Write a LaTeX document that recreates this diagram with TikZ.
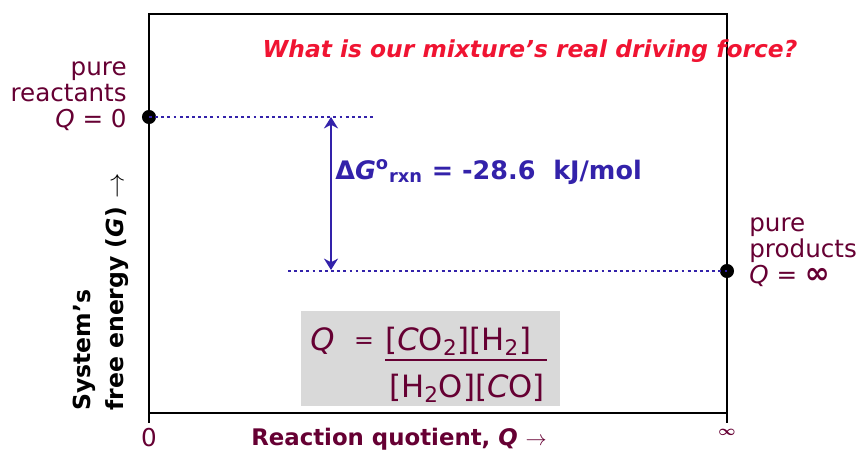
\documentclass[tikz,border=0pt]{standalone}
\usepackage{amsmath}
\usepackage{fontspec}
\setmainfont{DejaVu Sans}
\usetikzlibrary{arrows.meta,positioning}

\definecolor{maroon}{RGB}{102,0,51}
\definecolor{dgblue}{RGB}{51,34,170}
\definecolor{qred}{RGB}{240,20,50}
\definecolor{qgray}{RGB}{217,217,217}

\begin{document}
\begin{tikzpicture}[
    x=0.02cm, y=-0.02cm,
    txt/.style={font=\fontsize{14}{14.8}\selectfont, text=maroon, inner sep=0pt},
    big/.style={txt, font=\fontsize{17.5}{19}\selectfont},
    dot/.style={circle, fill=black, minimum size=8pt, inner sep=0pt},
    dotline/.style={dgblue, line width=1.6pt, dash pattern=on 1.6pt off 1.9pt},
    darr/.style={{Stealth[length=6.5pt,width=8pt]}-{Stealth[length=6.5pt,width=8pt]}, dgblue, line width=1.1pt},
    axis/.style={line width=1.4pt, line cap=rect},
]
\useasboundingbox (0,0) rectangle (857,454);

% frame and ticks
\draw[axis] (149,422) -- (149,14) -- (727,14) -- (727,422);
\draw[axis] (149,413) -- (727,413);

% gray box with Q
\node[fill=qgray, minimum width=147pt, minimum height=54pt, inner sep=0pt, anchor=north west] (qbox) at (301,311) {};
\node[big, anchor=base west] (qsym) at (310,350) {\textit{Q}};
\node[big, font=\fontsize{13.5}{15}\selectfont, anchor=base] (qeq) at (364,348) {=};
\node[big, anchor=base west] (numer) at (385,350) {[\textit{C}O\textsubscript{2}][H\textsubscript{2}]};
\node[big, anchor=base] (denom) at (467,397) {[H\textsubscript{2}O][\textit{C}O]};
\draw[maroon, line width=1.6pt] (385,360) -- (547,360);

% end points
\node[dot] (rdot) at (149,117) {};
\node[dot] (pdot) at (727,271) {};
\coordinate (rend) at (375,117);
\coordinate (pend) at (288,271);
\draw[dotline] (rdot.center) -- (rend);
\draw[dotline] (pend) -- (pdot.center);

% driving force
\coordinate (atop) at (331,117);
\coordinate (abot) at (331,270);
\draw[darr] (atop) -- (abot);
\node[txt, text=dgblue, font=\fontsize{14.5}{16}\selectfont\bfseries, anchor=west] (dg) at (335,172)
  {Δ\textit{G}\textsuperscript{o}\textsubscript{rxn} = -28.6\ \ kJ/mol};

% labels
\node[txt, align=right, anchor=east] (rlab) at (127,96) {pure\\reactants\\\textit{Q} = 0};
\node[txt, align=left, anchor=west] (plab) at (749,252) {pure\\products\\\textit{Q} = {\fontsize{17}{14.8}\selectfont\bfseries ∞}};
\node[txt, text=qred, font=\fontsize{13.3}{15}\selectfont\bfseries\itshape] (title) at (530,51)
  {What is our mixture's real driving force?};
\node[txt, text=black, font=\fontsize{13.4}{18.7}\selectfont\bfseries, align=left, rotate=90, anchor=west] (ylab) at (101,411)
  {System's\\free energy (\textit{G}) $\rightarrow$};
\node[txt, font=\fontsize{13}{14}\selectfont\bfseries] (xlab) at (399,439) {Reaction quotient, \textit{Q} $\rightarrow$};
\node[txt] (zero) at (149,438) {0};
\node[txt, font=\fontsize{8.5}{10}\selectfont] (inf) at (727,432) {$\boldsymbol{\infty}$};
\end{tikzpicture}
\end{document}
